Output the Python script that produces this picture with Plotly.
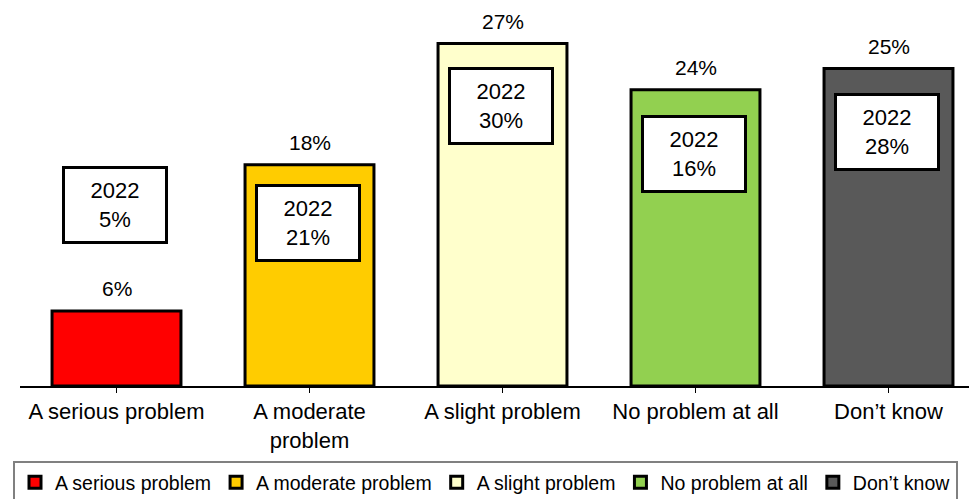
import plotly.graph_objects as go

categories = ["A serious problem", "A moderate problem", "A slight problem", "No problem at all", "Don\u2019t know"]
tick_labels = ["A serious problem", "A moderate<br>problem", "A slight problem", "No problem at all", "Don\u2019t know"]
values_current = [6.0, 17.7, 27.4, 23.7, 25.4]
labels_current = ["6%", "18%", "27%", "24%", "25%"]
values_2022 = [5, 21, 30, 16, 28]
colors = ["#FF0000", "#FFCC00", "#FFFFCC", "#92D050", "#595959"]

# vertical offset (px) of the 2022 box centre relative to the bar top
box_offsets = [106, -58, -62, -64, -63]

FONT = "Liberation Sans, Arial, sans-serif"

fig = go.Figure()
for i, cat in enumerate(categories):
    fig.add_trace(go.Bar(
        x=[i], y=[values_current[i]], name=cat,
        width=0.668,
        marker=dict(color=colors[i], line=dict(color="#000000", width=3)),
        hoverinfo="skip",
    ))
    fig.add_annotation(
        x=i, y=values_current[i], text=labels_current[i],
        showarrow=False, yanchor="bottom", yshift=9,
        font=dict(family=FONT, size=21, color="#000000"),
    )
    fig.add_annotation(
        x=i, y=values_current[i], text=f"2022<br>{values_2022[i]}%",
        showarrow=False, yanchor="middle", yshift=box_offsets[i], xshift=-2,
        width=100, height=72, align="center", valign="middle",
        bgcolor="#FFFFFF", bordercolor="#000000", borderwidth=3, borderpad=0,
        font=dict(family=FONT, size=22, color="#000000"),
    )

fig.update_layout(
    width=977, height=499,
    margin=dict(l=12, r=0, t=0, b=121),
    paper_bgcolor="#FFFFFF", plot_bgcolor="#FFFFFF",
    barmode="overlay",
    font=dict(family=FONT, size=22, color="#000000"),
    showlegend=True,
    legend=dict(
        orientation="h",
        xref="container", yref="container",
        x=5 / 977, xanchor="left",
        y=1 - 453 / 499, yanchor="top",
        bordercolor="#808080", borderwidth=2,
        font=dict(family=FONT, size=19.5, color="#000000"),
        itemwidth=30, tracegroupgap=0,
    ),
    xaxis=dict(
        range=[-0.5, 4.5],
        tickmode="array", tickvals=list(range(len(categories))), ticktext=tick_labels,
        tickson="boundaries", ticks="outside", ticklen=5, tickcolor="#000000",
        showline=True, linecolor="#000000", linewidth=1.5,
        showgrid=False, zeroline=False,
        tickfont=dict(family=FONT, size=22, color="#000000"),
        ticklabelstandoff=0,
        fixedrange=True,
    ),
    yaxis=dict(
        range=[0, 378 / 12.5],
        visible=False, showgrid=False, zeroline=False, fixedrange=True,
    ),
)

fig.write_html("out.html")
